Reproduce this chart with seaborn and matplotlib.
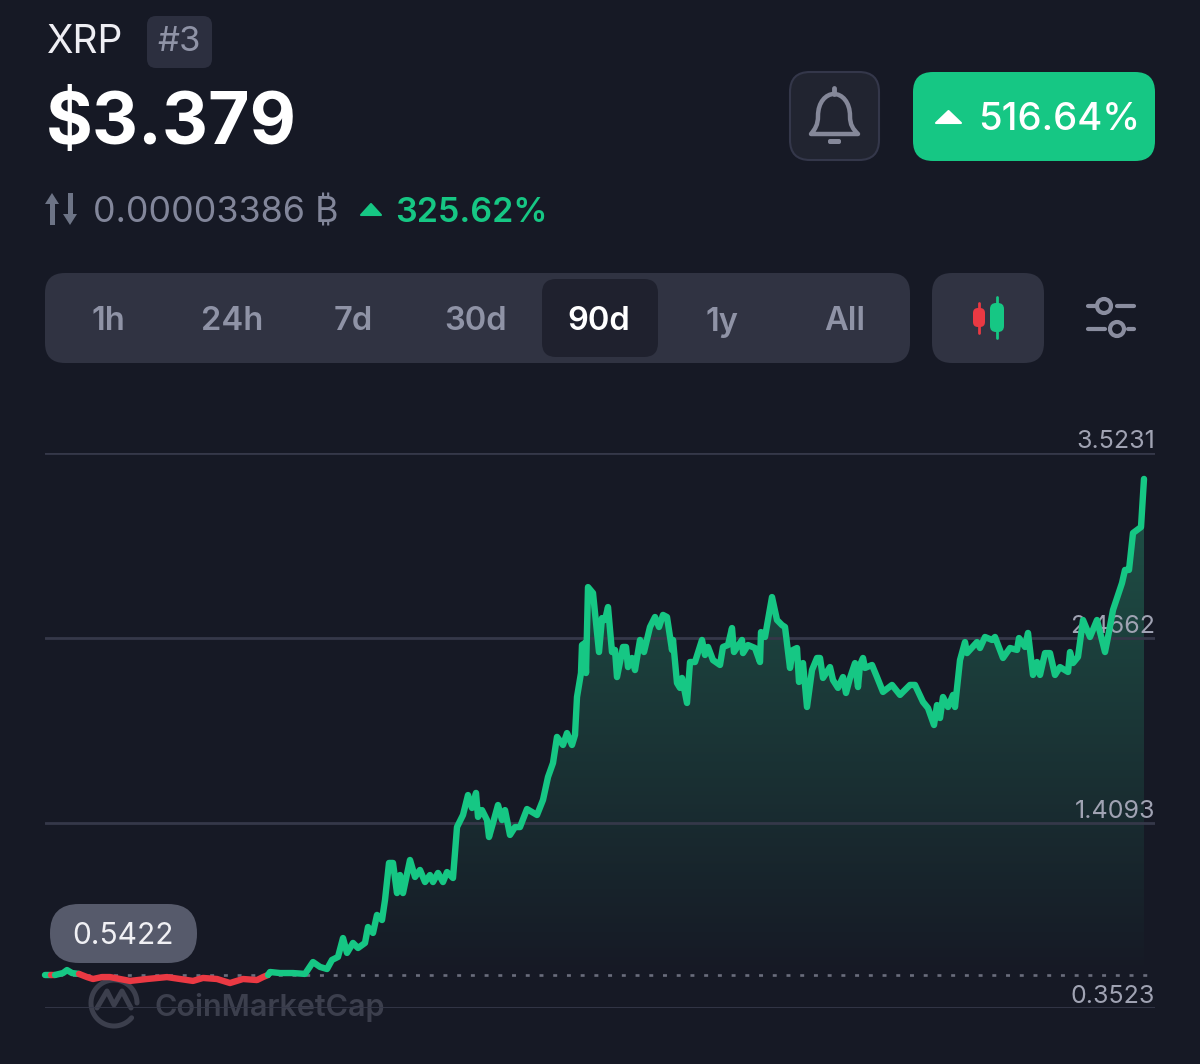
import numpy as np
import pandas as pd
import matplotlib.pyplot as plt
import seaborn as sns
from matplotlib.colors import LinearSegmentedColormap
from matplotlib.patches import FancyBboxPatch, Circle, Polygon, PathPatch
from matplotlib.path import Path

# price series (x = time step across the window)
steps = [
    0, 6, 10, 18, 22, 27, 34, 42, 48, 57, 65, 75, 85, 102, 122, 135, 148, 158, 172, 185,
    198, 212, 218, 223, 225, 235, 248, 260, 268, 275, 282, 287, 293, 298, 302, 308, 313, 320, 323, 328,
    332, 337, 340, 344, 348, 352, 355, 358, 365, 370, 375, 380, 385, 388, 393, 398, 402, 408, 412, 418,
    423, 427, 431, 433, 437, 442, 444, 448, 453, 457, 460, 465, 470, 475, 482, 492, 498, 503, 508, 512,
    518, 522, 527, 530, 532, 536, 537, 540, 541, 543, 548, 550, 554, 557, 560, 563, 567, 570, 572, 578,
    581, 583, 587, 590, 595, 599, 605, 610, 614, 618, 622, 627, 628, 632, 635, 637, 642, 645, 650, 657,
    660, 663, 668, 675, 678, 683, 687, 689, 697, 698, 703, 710, 715, 716, 720, 727, 732, 737, 740, 745,
    748, 752, 754, 758, 762, 767, 772, 775, 778, 785, 788, 793, 798, 801, 805, 810, 813, 815, 818, 820,
    827, 832, 838, 847, 855, 865, 870, 878, 883, 889, 892, 895, 898, 903, 908, 910, 915, 920, 922, 932,
    935, 940, 947, 950, 958, 965, 972, 974, 980, 983, 988, 992, 995, 1000, 1005, 1010, 1015, 1023, 1025, 1028,
    1033, 1038, 1045, 1052, 1060, 1063, 1068, 1077, 1080, 1084, 1088, 1096, 1099,
]
prices = [
    0.541, 0.541, 0.541, 0.552, 0.569, 0.552, 0.547, 0.529, 0.518, 0.529, 0.529, 0.518, 0.507, 0.518, 0.529, 0.518, 0.507, 0.524, 0.518, 0.495,
    0.518, 0.512, 0.529, 0.541, 0.558, 0.552, 0.552, 0.547, 0.615, 0.587, 0.575, 0.627, 0.644, 0.752, 0.667, 0.724, 0.695, 0.724, 0.815, 0.781,
    0.884, 0.855, 0.969, 1.181, 1.181, 1.009, 1.112, 1.009, 1.198, 1.101, 1.141, 1.072, 1.112, 1.072, 1.124, 1.072, 1.129, 1.095, 1.386, 1.455,
    1.569, 1.495, 1.581, 1.444, 1.483, 1.426, 1.329, 1.409, 1.512, 1.426, 1.483, 1.341, 1.386, 1.386, 1.489, 1.455, 1.541, 1.672, 1.752, 1.901,
    1.855, 1.923, 1.855, 1.912, 2.129, 2.266, 2.426, 2.438, 2.266, 2.757, 2.723, 2.609, 2.386, 2.580, 2.569, 2.643, 2.386, 2.398, 2.243, 2.415,
    2.415, 2.300, 2.352, 2.283, 2.455, 2.386, 2.529, 2.586, 2.529, 2.598, 2.586, 2.398, 2.455, 2.209, 2.181, 2.238, 2.095, 2.329, 2.329, 2.455,
    2.369, 2.415, 2.340, 2.312, 2.415, 2.426, 2.523, 2.386, 2.455, 2.380, 2.426, 2.409, 2.329, 2.500, 2.472, 2.700, 2.569, 2.540, 2.529, 2.295,
    2.398, 2.409, 2.215, 2.323, 2.072, 2.283, 2.352, 2.352, 2.238, 2.300, 2.226, 2.181, 2.243, 2.152, 2.238, 2.323, 2.186, 2.312, 2.352, 2.295,
    2.312, 2.243, 2.158, 2.198, 2.141, 2.198, 2.198, 2.101, 2.066, 1.969, 2.083, 2.009, 2.129, 2.072, 2.141, 2.072, 2.340, 2.443, 2.380, 2.443,
    2.409, 2.472, 2.455, 2.472, 2.352, 2.409, 2.398, 2.466, 2.415, 2.495, 2.255, 2.329, 2.255, 2.380, 2.380, 2.255, 2.300, 2.272, 2.386, 2.323,
    2.358, 2.569, 2.472, 2.569, 2.386, 2.472, 2.626, 2.780, 2.855, 2.855, 3.066, 3.100, 3.375,
]
# where the line changes colour (start, end, colour name)
segments = [(0, 6, 'up'), (6, 10, 'down'), (10, 34, 'up'), (34, 223, 'down'), (223, 1099, 'up')]
baseline = 0.5422
grid_values = [0.3523, 1.4093, 2.4662, 3.5231]
grid_labels = ['0.3523', '1.4093', '2.4662', '3.5231']
tab_names = ['1h', '24h', '7d', '30d', '90d', '1y', 'All']
tab_centers = [108, 232, 353, 476, 599, 722, 845]

BG = '#161925'
GREEN = '#16c784'
RED = '#ea3943'
GREY = '#8f93a6'
PANEL = '#303342'

df = pd.DataFrame({'step': steps, 'price': prices})

sns.set_theme(style='dark', rc={'figure.facecolor': BG, 'axes.facecolor': BG, 'savefig.facecolor': BG})
plt.rcParams['font.family'] = ['Inter', 'DejaVu Sans']

fig = plt.figure(figsize=(12, 10.64), dpi=100)

# page layer in pixel coordinates for the app header
ui = fig.add_axes([0, 0, 1, 1])
ui.set_xlim(0, 1200)
ui.set_ylim(1064, 0)
ui.axis('off')


def box(x0, y0, x1, y1, r, face, edge='none', lw=0):
    ui.add_patch(FancyBboxPatch((x0, y0), x1 - x0, y1 - y0, boxstyle=f'round,pad=0,rounding_size={r}',
                                facecolor=face, edgecolor=edge, linewidth=lw))


def tri(x0, x1, y0, y1, color):
    ui.add_patch(Polygon([(x0, y1), ((x0 + x1) / 2, y0), (x1, y1)], closed=True, facecolor=color,
                         edgecolor=color, linewidth=1.5, joinstyle='round'))


# header
ui.text(47, 53, 'XRP', fontsize=28, color='#eeeef3', va='baseline')
box(147, 16, 212, 68, 9, '#2c2f3f')
ui.text(179, 42, '#3', fontsize=25, color=GREY, ha='center', va='center')
ui.text(46, 144, '$3.379', fontsize=51.5, color='white', fontweight='bold', va='baseline')

# swap arrows
ui.add_patch(Polygon([(45, 204), (52, 193), (59, 204), (55, 204), (55, 225), (50, 225), (50, 204)],
                     facecolor='#6d7486', edgecolor='none'))
ui.add_patch(Polygon([(63, 214), (70, 225), (77, 214), (73, 214), (73, 193), (68, 193), (68, 214)],
                     facecolor='#6d7486', edgecolor='none'))
ui.text(93, 213, '0.00003386 ₿', fontsize=25.8, color='#82869a', va='center')
tri(361, 381, 204, 215, GREEN)
ui.text(395, 213, '325.62%', fontsize=24.5, color=GREEN, fontweight='semibold', va='center')

# bell button
box(790, 72, 879, 160, 20, '#212430', '#34374a', 1.5)
bell = Path(
    [(811, 134), (815, 129), (818, 125), (818, 116), (818, 116), (818, 102), (826, 94), (834, 94),
     (842, 94), (850, 102), (850, 116), (850, 125), (853, 129), (858, 134), (811, 134)],
    [Path.MOVETO, Path.CURVE4, Path.CURVE4, Path.CURVE4, Path.LINETO, Path.CURVE4, Path.CURVE4, Path.CURVE4,
     Path.CURVE4, Path.CURVE4, Path.CURVE4, Path.CURVE4, Path.CURVE4, Path.CURVE4, Path.CLOSEPOLY])
ui.add_patch(PathPatch(bell, facecolor='none', edgecolor='#858899', linewidth=3.2, joinstyle='round'))
ui.plot([834, 834], [88, 94], color='#858899', lw=3.5)
box(828, 139, 841, 144, 2, '#858899')

# change button
box(913, 72, 1155, 161, 20, GREEN)
tri(936, 961, 111, 123, 'white')
ui.text(978, 120, '516.64%', fontsize=27.5, color='white', fontweight='medium', va='center')

# range tabs
box(45, 273, 910, 363, 20, PANEL)
box(542, 279, 658, 357, 14, '#1f212e')
for name, cx in zip(tab_names, tab_centers):
    ui.text(cx, 322, name, fontsize=23.5, color='white' if name == '90d' else GREY,
            fontweight='semibold', ha='center', va='center')

# candle button
box(932, 273, 1044, 363, 20, PANEL)
ui.plot([979, 979], [303, 333], color=RED, lw=2)
box(973, 308, 985, 327, 5, RED)
ui.plot([997, 997], [297, 338], color=GREEN, lw=2)
box(990, 303, 1004, 332, 6, GREEN)

# sliders icon
for x0, x1, y in [(1088, 1095, 306), (1117, 1134, 306), (1088, 1105, 329), (1128, 1134, 329)]:
    ui.plot([x0, x1], [y, y], color='#8a8d9f', lw=3, solid_capstyle='round')
ui.add_patch(Circle((1104, 306), 7, facecolor='none', edgecolor='#8a8d9f', linewidth=3))
ui.add_patch(Circle((1117, 329), 7, facecolor='none', edgecolor='#8a8d9f', linewidth=3))

# watermark
a = np.radians(np.linspace(0, 320, 80))
ui.plot(114 + 23 * np.cos(a), 1003 - 23 * np.sin(a), color='#3c3f4d', lw=3.6)
ui.plot([97, 107, 114, 122, 131], [1008, 991, 1005, 991, 1008], color='#3c3f4d', lw=3.6)
ui.text(155, 1007, 'CoinMarketCap', fontsize=22, color='#3c3f4d', fontweight='semibold', va='center')

# value pill
box(50, 904, 197, 963, 29, '#565a6b')
ui.text(123.5, 936, '0.5422', fontsize=21.5, color='#f0f0f4', ha='center', va='center')

# chart layer
ax = fig.add_axes([45 / 1200, 56 / 1064, 1110 / 1200, 555 / 1064])
ax.patch.set_alpha(0)
ax.set_xlim(0, 1110)
ax.set_ylim(grid_values[0], grid_values[-1])
for s in ax.spines.values():
    s.set_visible(False)

fade = LinearSegmentedColormap.from_list('fade', ['#1f5348', BG])
poly = ax.fill_between(df['step'], df['price'], baseline, where=df['step'] >= 223, color='none')
img = ax.imshow(np.linspace(0, 1, 256).reshape(-1, 1), cmap=fade, aspect='auto', origin='upper',
                extent=[0, 1099, baseline, df['price'].max()], zorder=1)
img.set_clip_path(poly.get_paths()[0], transform=ax.transData)
ax.set_xlim(0, 1110)
ax.set_ylim(grid_values[0], grid_values[-1])

ax.axhline(baseline, color='#6a6d7c', lw=1.9, dashes=(1.5, 3.7), zorder=1.5)

for start, end, trend in segments:
    part = df[(df['step'] >= start) & (df['step'] <= end)]
    sns.lineplot(data=part, x='step', y='price', ax=ax, estimator=None, sort=False,
                 color=GREEN if trend == 'up' else RED, linewidth=4.6, zorder=3, clip_on=False)

ax.set_xlabel('')
ax.set_ylabel('')
ax.set_xticks([])
ax.set_yticks(grid_values, grid_labels)
ax.set_axisbelow('line')
ax.grid(axis='y', color='#353849', lw=2)
ax.tick_params(axis='y', left=False, right=False, labelleft=False, labelright=True, length=0, pad=0,
               labelcolor='#a0a3b3', labelsize=18)
for lab in ax.get_yticklabels():
    lab.set_ha('right')
    lab.set_va('bottom')

fig.savefig('out.png', dpi=100)
